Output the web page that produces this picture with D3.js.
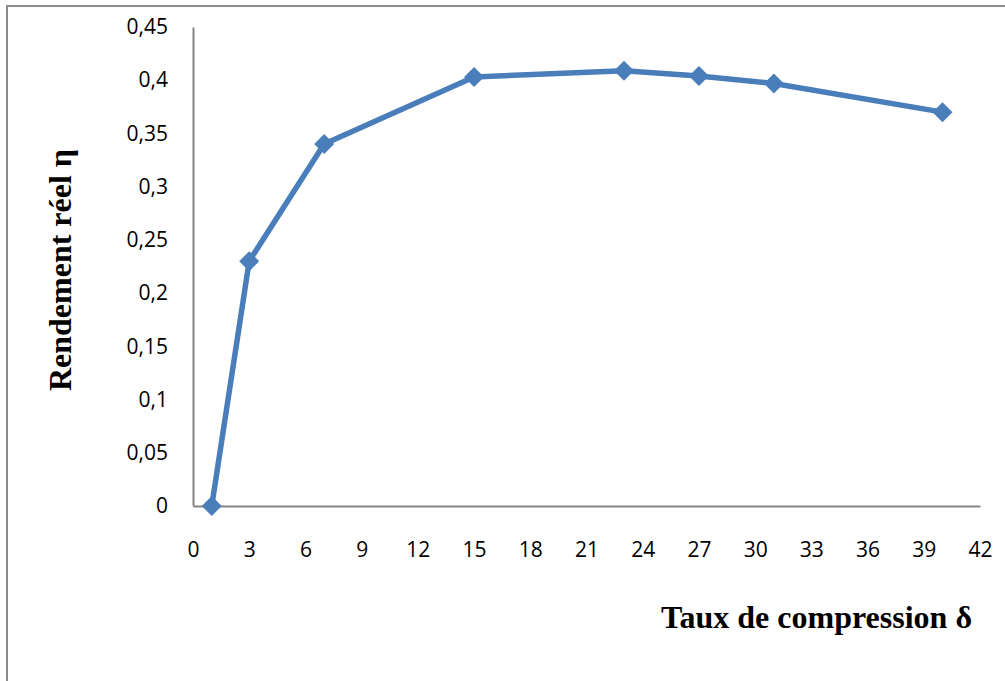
<!DOCTYPE html>
<html>
<head>
<meta charset="utf-8">
<script src="https://cdn.jsdelivr.net/npm/d3@7"></script>
<style>
  html, body { margin: 0; padding: 0; background: #fff; }
  svg { display: block; }
</style>
</head>
<body>
<svg id="chart" width="1005" height="681"></svg>
<script>
// Compression ratio vs. real efficiency
const compressionRatio = [1, 3, 7, 15, 23, 27, 31, 40];
const efficiency = [0, 0.23, 0.34, 0.403, 0.409, 0.404, 0.397, 0.37];
const xTicks = [0, 3, 6, 9, 12, 15, 18, 21, 24, 27, 30, 33, 36, 39, 42];
const yTicks = [0, 0.05, 0.1, 0.15, 0.2, 0.25, 0.3, 0.35, 0.4, 0.45];
const xTitle = "Taux de compression δ";
const yTitle = "Rendement réel η";

const svg = d3.select("#chart");
const W = 1005, H = 681;
const plot = { left: 193, right: 980, top: 27, bottom: 506 };

// Outer frame: top and left edges
svg.append("path")
  .attr("d", `M7,${H} L7,6 L${W},6`)
  .attr("fill", "none")
  .attr("stroke", "#8c8c8c")
  .attr("stroke-width", 2);

const x = d3.scaleLinear().domain([0, 42]).range([plot.left, plot.right]);
const y = d3.scaleLinear().domain([0, 0.45]).range([plot.bottom, plot.top]);

const fmt = v => d3.format("~g")(+v.toFixed(2)).replace(".", ",");

const xAxis = svg.append("g")
  .attr("transform", `translate(0,${plot.bottom})`)
  .call(d3.axisBottom(x).tickValues(xTicks).tickSize(0).tickPadding(0).tickFormat(d3.format("d")));
xAxis.select(".domain").attr("stroke", "#868686").attr("stroke-width", 2);
xAxis.selectAll("text")
  .attr("dy", null)
  .attr("y", 51)
  .attr("font-family", "'Open Sans', sans-serif")
  .attr("font-size", 21)
  .attr("fill", "#000");

const yAxis = svg.append("g")
  .attr("transform", `translate(${plot.left},0)`)
  .call(d3.axisLeft(y).tickValues(yTicks).tickSize(0).tickPadding(25).tickFormat(fmt));
yAxis.select(".domain").attr("stroke", "#868686").attr("stroke-width", 2);
yAxis.selectAll("text")
  .attr("font-family", "'Open Sans', sans-serif")
  .attr("font-size", 21)
  .attr("fill", "#000");

// Axis titles
svg.append("text")
  .attr("x", 972)
  .attr("y", 628)
  .attr("text-anchor", "end")
  .attr("font-family", "'Liberation Serif', 'Times New Roman', serif")
  .attr("font-weight", "bold")
  .attr("font-size", 32)
  .text(xTitle);

svg.append("text")
  .attr("transform", "translate(71,270) rotate(-90)")
  .attr("text-anchor", "middle")
  .attr("font-family", "'Liberation Serif', 'Times New Roman', serif")
  .attr("font-weight", "bold")
  .attr("font-size", 32)
  .text(yTitle);

// Series line and diamond markers
const data = compressionRatio.map((d, i) => ({ x: d, y: efficiency[i] }));
const blue = "#4a7ebb";

svg.append("path")
  .datum(data)
  .attr("fill", "none")
  .attr("stroke", blue)
  .attr("stroke-width", 5.5)
  .attr("stroke-linejoin", "round")
  .attr("d", d3.line().x(d => x(d.x)).y(d => y(d.y)));

const r = 10;
svg.append("g").selectAll("path")
  .data(data)
  .join("path")
  .attr("transform", d => `translate(${x(d.x)},${y(d.y)})`)
  .attr("d", `M0,${-r} L${r},0 L0,${r} L${-r},0 Z`)
  .attr("fill", blue);
</script>
</body>
</html>
